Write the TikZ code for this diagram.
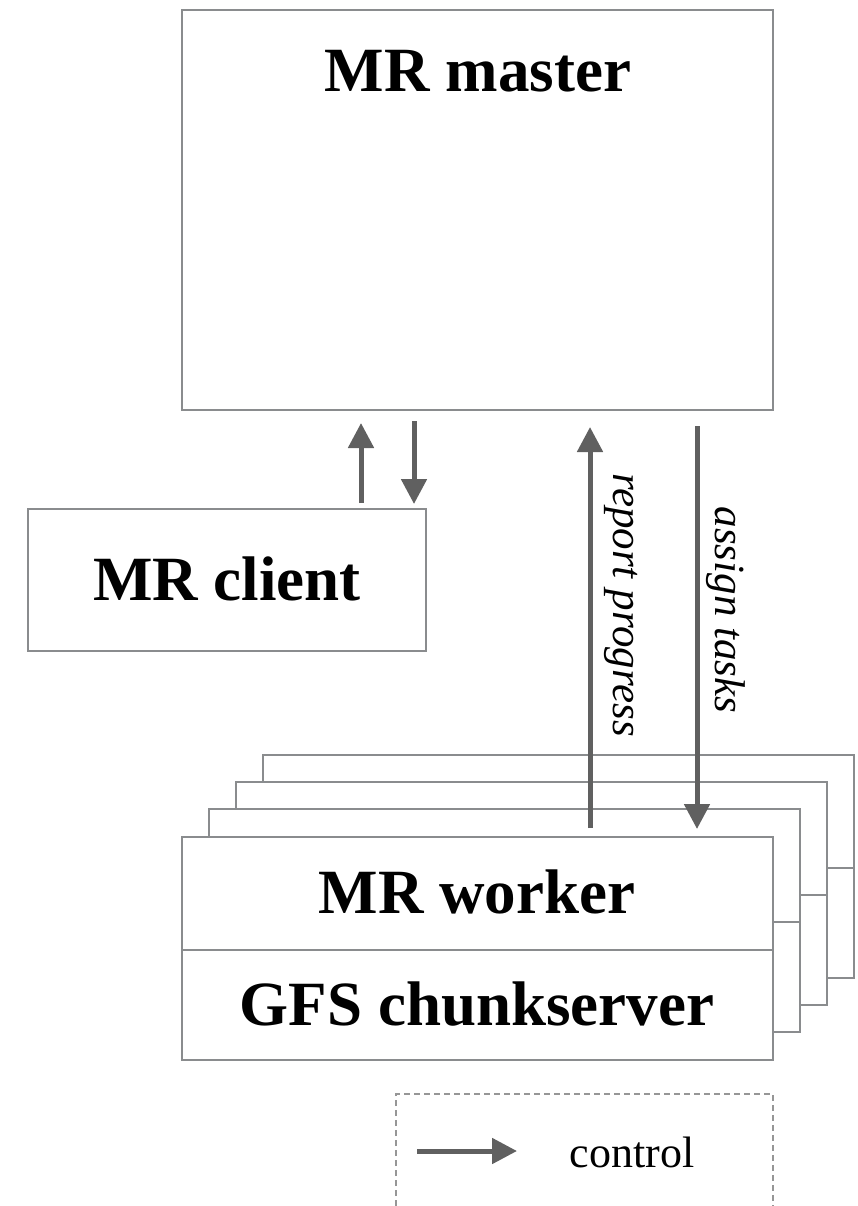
\documentclass[tikz,border=0pt]{standalone}
\usepackage{fontspec}
\setmainfont{Liberation Serif}
\usetikzlibrary{arrows.meta,calc}
\definecolor{edgegray}{RGB}{138,140,142}
\definecolor{arrowgray}{RGB}{96,96,96}
\definecolor{dashgray}{RGB}{150,150,150}
\begin{document}
\begin{tikzpicture}[x=1pt,y=-1pt,
  box/.style={draw=edgegray, line width=2.5pt, fill=white, inner sep=0pt, outer sep=0pt},
  ctrl/.style={draw=arrowgray, line width=5pt, -{Triangle[length=25pt,width=25pt]}},
  bigtext/.style={font=\fontsize{63}{70}\selectfont\bfseries, inner sep=0pt, anchor=base},
  sidetext/.style={font=\fontsize{43}{50}\selectfont\itshape, inner sep=0pt, anchor=base, rotate=-90}]
\useasboundingbox (0,0) rectangle (858,1206);

% master
\node[box, minimum width=591pt, minimum height=400pt] (master) at (477.5,210) {};
\node[bigtext] (mastertitle) at (478,92) {MR master};

% client
\node[box, minimum width=398pt, minimum height=142pt] (client) at (227,580) {};
\node[bigtext] (clientlabel) at (227,600) {MR client};

% stacked worker machines, back to front
\foreach \i/\dx/\dy in {3/81/-82, 2/54/-55, 1/27/-28} {
  \node[box, minimum width=591pt, minimum height=113pt, anchor=north west] (upper\i) at (182+\dx,837+\dy) {};
  \node[box, minimum width=591pt, minimum height=110pt, anchor=north] (lower\i) at (upper\i.south) {};
}
\node[box, minimum width=591pt, minimum height=113pt, anchor=north west] (worker) at (182,837) {};
\node[box, minimum width=591pt, minimum height=110pt, anchor=north] (chunk) at (worker.south) {};
\node[bigtext] (workerlabel) at (477,913) {MR worker};
\node[bigtext] (chunklabel) at (477,1025) {GFS chunkserver};

% control arrows
\coordinate (cu) at (361,0);
\coordinate (cd) at (414,0);
\coordinate (rp) at (590,0);
\coordinate (at) at (697,0);
\draw[ctrl, shorten <=6pt, shorten >=13pt] (client.north -| cu) -- (master.south -| cu);
\draw[ctrl, shorten <=11pt, shorten >=5pt] (master.south -| cd) -- (client.north -| cd);
\draw[ctrl, shorten <=9pt, shorten >=17pt] (worker.north -| rp) -- (master.south -| rp);
\draw[ctrl, shorten <=16pt, shorten >=8pt] (master.south -| at) -- (worker.north -| at);
\node[sidetext] (reportlabel) at (613,605) {report progress};
\node[sidetext] (assignlabel) at (715,610) {assign tasks};

% legend
\draw[dashgray, line width=2.5pt, dash pattern=on 6pt off 4pt] (396,1206) -- (396,1094) -- (773,1094) -- (773,1206);
\coordinate (legA) at (417,1151);
\coordinate (legB) at (517,1151);
\draw[ctrl] (legA) -- (legB);
\node[font=\fontsize{44}{50}\selectfont, anchor=base, inner sep=0pt] (legendtext) at (632,1167) {control};
\end{tikzpicture}
\end{document}
